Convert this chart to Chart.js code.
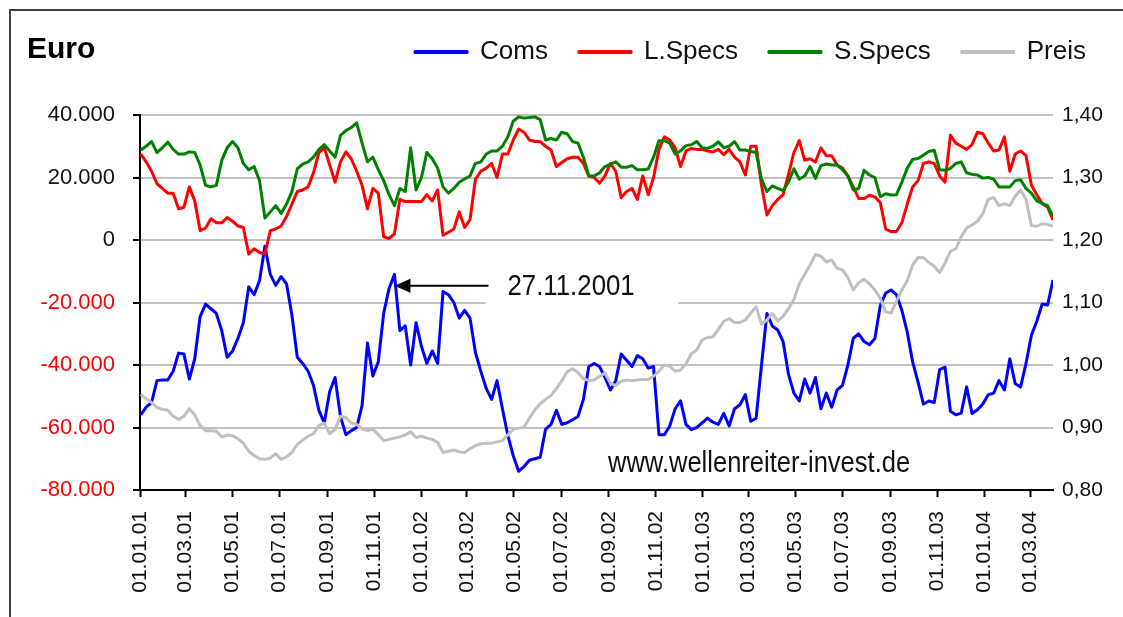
<!DOCTYPE html>
<html>
<head>
<meta charset="utf-8">
<title>Euro</title>
<script src="https://cdn.jsdelivr.net/npm/chart.js@4.4.1/dist/chart.umd.min.js"></script>
<style>
  html, body { margin: 0; padding: 0; background: #fff; }
  canvas { display: block; }
</style>
</head>
<body>
<canvas id="myChart" width="1123" height="617"></canvas>
<script>
// weekly COT reports, first one on Tuesday 02.01.2001
const firstReport = '02.01.01';

const coms = [
  -56000, -53500, -52000, -45000, -44800, -44800, -42000, -36200, -36500, -44500,
  -38000, -24500, -20500, -22000, -23500, -29000, -37500, -35500, -31500, -26500,
  -15000, -17500, -13000, -2000, -11000, -14500, -11700, -14000, -24000, -37500,
  -39500, -42000, -46500, -54500, -58500, -48500, -44000, -56500, -62300, -61000,
  -60000, -53000, -33000, -43500, -39000, -23500, -15500, -11000, -29000, -27500,
  -40000, -26500, -34000, -39500, -35500, -39500, -16500, -17500, -20000, -25000,
  -22500, -25000, -36000, -42000, -47500, -51000, -45000, -54000,
  -62500, -69000, -74000, -72500, -70500, -70000, -69500, -60500, -59000, -54500,
  -59000, -58500, -57500, -56500, -51000, -40500, -39500, -40500, -44000, -48000,
  -45000, -36500, -38500, -40500, -37000, -38000, -41000, -40500, -62300, -62300,
  -59500, -54000, -51500, -59000, -60700, -60000, -58500, -57000,
  -58300, -59000, -55500, -59500, -54000, -52700, -49500, -58000, -57000, -40000,
  -23500, -27500, -28800, -32500, -43000, -49000, -51500, -44500, -49000, -44000,
  -54000, -49000, -53500, -48000, -46500, -40000, -31500, -30000, -32500, -33500,
  -31500, -21000, -17000, -16000, -17500, -22500, -29500, -39000,
  -45500, -52500, -51500, -52000, -41500, -40700, -54800, -55900, -55400, -47000,
  -55500, -54300, -52500, -49500, -49000, -45000, -48000, -38000, -46000, -47000,
  -39500, -30500, -26000, -20500, -20800, -12800
];

const longSpecs = [
  27500, 25000, 22000, 18000, 16500, 15000, 15000, 10000, 10500, 17000,
  12500, 3000, 3800, 6800, 5500, 5500, 7200, 6000, 4500, 4000,
  -4500, -2800, -4000, -4500, 3000, 3500, 4500, 7500, 11500, 15500,
  16000, 17000, 21500, 28000, 29500, 24000, 18500, 25000, 28200, 26000,
  22000, 17500, 10000, 16500, 15000, 1000, 500, 2000, 13000, 12300,
  12300, 12300, 12300, 14500, 12500, 16000, 1500, 2500, 3500, 9000,
  4000, 6500, 19500, 22000, 23000, 24500, 20000, 27500,
  27500, 32000, 35500, 34500, 32000, 31500, 31500, 30000, 28800, 23500,
  24800, 26000, 26500, 26500, 24500, 20500, 20000, 18200, 20500, 24500,
  22000, 13500, 15500, 16500, 13000, 20500, 14500, 20000, 29000, 33000,
  32000, 29500, 23500, 28500, 29300, 29000, 29000, 28500,
  28200, 29000, 27300, 29000, 26500, 25000, 20800, 30000, 30000, 17500,
  8000, 11000, 13000, 14500, 21000, 28000, 31800, 25500, 26000, 25000,
  29500, 27000, 27000, 24000, 23000, 20500, 17000, 13300, 13300, 14300,
  13800, 12000, 3500, 2700, 2700, 5500, 11500, 17000,
  19000, 24500, 25000, 24500, 20500, 18500, 33500, 31000, 30000, 29000,
  30500, 34500, 34000, 31000, 28500, 28800, 33000, 22000, 27500, 28500,
  27000, 17500, 14500, 11700, 10500, 6500
];

const shortSpecs = [
  28800, 30000, 31500, 28000, 29500, 31300, 29000, 27500, 27500, 28200,
  28000, 24000, 17500, 17000, 17500, 25500, 29500, 31500, 29500, 24500,
  22500, 23500, 19000, 7000, 9000, 11000, 8500, 11500, 15500, 22800,
  24300, 25000, 26500, 29000, 30500, 28500, 26500, 33500, 35000, 36000,
  37500, 31000, 25000, 26500, 22500, 19000, 14500, 11000, 16500, 15500,
  29500, 16000, 20000, 28000, 26000, 23000, 17000, 15000, 16500, 18500,
  19500, 20500, 24500, 25000, 27500, 28500, 28500, 30000,
  33000, 38000, 39400, 39000, 39200, 39400, 38500, 32000, 32500, 32000,
  34500, 34000, 31500, 31000, 26500, 20500, 20500, 21500, 23500, 24200,
  25000, 23300, 23300, 23800, 22500, 22500, 22700, 26500, 31800, 31800,
  31000, 27500, 28500, 30200, 30500, 31500, 29500, 29300,
  30000, 31400, 29500, 30000, 31500, 28800, 28800, 28300, 28000, 19500,
  15500, 17300, 16500, 15800, 18600, 22800, 19500, 20500, 23500, 19700,
  23800, 24300, 24000, 24000, 22500, 20500, 16000, 16500, 22300, 20800,
  20000, 13900, 14800, 14400, 14500, 18500, 23000, 25800,
  26100, 27200, 28300, 28700, 22500, 22300, 22900, 24500, 25000, 21500,
  21000, 20800, 19800, 20000, 19500, 17000, 17000, 17000, 19000, 19300,
  16500, 15000, 12500, 11700, 11000, 7500
];

const preis = [
  0.953, 0.946, 0.940, 0.932, 0.929, 0.928, 0.918, 0.913, 0.918, 0.930,
  0.920, 0.903, 0.895, 0.895, 0.894, 0.885, 0.888, 0.887, 0.882, 0.875,
  0.862, 0.855, 0.850, 0.849, 0.851, 0.858, 0.849, 0.853, 0.860, 0.873,
  0.880, 0.886, 0.890, 0.903, 0.907, 0.890, 0.897, 0.918, 0.916, 0.907,
  0.905, 0.898, 0.895, 0.897, 0.889, 0.879, 0.881, 0.883, 0.885, 0.888,
  0.893, 0.884, 0.886, 0.883, 0.881, 0.876, 0.860, 0.862, 0.864, 0.861,
  0.860, 0.866, 0.871, 0.874, 0.875, 0.875, 0.877, 0.879,
  0.888, 0.897, 0.899, 0.900, 0.915, 0.928, 0.938, 0.945, 0.951, 0.962,
  0.975, 0.989, 0.994, 0.988, 0.978, 0.975, 0.976, 0.982, 0.987, 0.971,
  0.967, 0.974, 0.976, 0.975, 0.976, 0.977, 0.977, 0.982, 0.990, 1.000,
  0.998, 0.990, 0.992, 1.002, 1.018, 1.024, 1.040, 1.044,
  1.045, 1.057, 1.070, 1.074, 1.068, 1.068, 1.072, 1.083, 1.093, 1.065,
  1.072, 1.083, 1.070, 1.078, 1.090, 1.105, 1.130, 1.145, 1.160, 1.177,
  1.174, 1.165, 1.168, 1.155, 1.152, 1.140, 1.120, 1.132, 1.137, 1.130,
  1.120, 1.107, 1.085, 1.083, 1.102, 1.120, 1.135, 1.160,
  1.172, 1.172, 1.164, 1.158, 1.148, 1.163, 1.182, 1.186, 1.205, 1.219,
  1.224, 1.230, 1.242, 1.265, 1.268, 1.255, 1.258, 1.255, 1.270, 1.280,
  1.265, 1.223, 1.222, 1.226, 1.225, 1.222
];

const tickLabels = [
  '01.01.01', '01.03.01', '01.05.01', '01.07.01', '01.09.01', '01.11.01',
  '01.01.02', '01.03.02', '01.05.02', '01.07.02', '01.09.02', '01.11.02',
  '01.01.03', '01.03.03', '01.05.03', '01.07.03', '01.09.03', '01.11.03',
  '01.01.04', '01.03.04'
];
const axisEnd = '30.03.04';
const markedDate = '27.11.01';
const markedLabel = '27.11.2001';

// days since 01.01.2001, used as x value
function dayOf(s) {
  const p = s.split('.');
  const t = Date.UTC(2000 + Number(p[2]), Number(p[1]) - 1, Number(p[0]));
  return Math.round((t - Date.UTC(2001, 0, 1)) / 86400000);
}

const firstDay = dayOf(firstReport);
const weekDays = coms.map((v, i) => firstDay + 7 * i);
const tickDays = tickLabels.map(dayOf);

function points(values) {
  return values.map((v, i) => ({ x: weekDays[i], y: v }));
}

function fmtThousands(v) {
  if (v === 0) return '0';
  return (v < 0 ? '-' : '') + String(Math.abs(v) / 1000) + '.000';
}

const FONT = 'Arial, "Liberation Sans", sans-serif';
Chart.defaults.font.family = FONT;
Chart.defaults.color = '#000';

// legend sits on the title row, leave the gap to the plot below it
const legendGap = {
  id: 'legendGap',
  beforeLayout(chart) {
    const lg = chart.legend;
    if (lg && !lg._gapDone) {
      const fit = lg.fit;
      lg.fit = function () { fit.call(this); this.height += 40; };
      lg._gapDone = true;
    }
  }
};

const decor = {
  id: 'decor',
  beforeDraw(chart) {
    const ctx = chart.ctx;
    ctx.save();
    ctx.fillStyle = '#fff';
    ctx.fillRect(0, 0, chart.width, chart.height);
    ctx.restore();
  },
  afterDatasetsDraw(chart) {
    const ctx = chart.ctx;
    const xs = chart.scales.x, ys = chart.scales.y;
    const tipX = xs.getPixelForValue(dayOf(markedDate));
    const tipY = ys.getPixelForValue(-14600);
    ctx.save();
    // white label box
    ctx.fillStyle = '#fff';
    ctx.fillRect(tipX + 91, tipY - 24, 193, 43);
    // arrow
    ctx.strokeStyle = '#000';
    ctx.lineWidth = 2;
    ctx.beginPath();
    ctx.moveTo(tipX + 12, tipY);
    ctx.lineTo(tipX + 94, tipY);
    ctx.stroke();
    ctx.fillStyle = '#000';
    ctx.beginPath();
    ctx.moveTo(tipX, tipY);
    ctx.lineTo(tipX + 16, tipY - 7);
    ctx.lineTo(tipX + 16, tipY + 7);
    ctx.closePath();
    ctx.fill();
    // label text
    ctx.fillStyle = '#111';
    ctx.font = '30px ' + FONT;
    ctx.textBaseline = 'middle';
    ctx.translate(tipX + 113, tipY + 1);
    ctx.scale(0.86, 1);
    ctx.fillText(markedLabel, 0, 0);
    ctx.restore();

    // source note
    const ca = chart.chartArea;
    ctx.save();
    ctx.fillStyle = '#111';
    ctx.font = '29px ' + FONT;
    ctx.textBaseline = 'alphabetic';
    ctx.translate(ca.left + 468, ca.bottom - 18);
    ctx.scale(0.88, 1);
    ctx.fillText('www.wellenreiter-invest.de', 0, 0);
    ctx.restore();
  },
  afterDraw(chart) {
    const ctx = chart.ctx;
    ctx.save();
    ctx.strokeStyle = '#404040';
    ctx.lineWidth = 2;
    ctx.strokeRect(10, 10, chart.width + 50, chart.height + 50);
    ctx.fillStyle = '#000';
    ctx.font = 'bold 30px ' + FONT;
    ctx.textBaseline = 'alphabetic';
    ctx.fillText('Euro', 27, 58);
    ctx.restore();
  }
};

const ctx = document.getElementById('myChart').getContext('2d');
const chart = new Chart(ctx, {
  type: 'line',
  data: {
    datasets: [
      {
        label: 'Coms',
        data: points(coms),
        borderColor: '#0000ff',
        backgroundColor: '#0000ff',
        borderWidth: 3,
        yAxisID: 'y',
        order: 4
      },
      {
        label: 'L.Specs',
        data: points(longSpecs),
        borderColor: '#ff0000',
        backgroundColor: '#ff0000',
        borderWidth: 3,
        yAxisID: 'y',
        order: 3
      },
      {
        label: 'S.Specs',
        data: points(shortSpecs),
        borderColor: '#008000',
        backgroundColor: '#008000',
        borderWidth: 3,
        yAxisID: 'y',
        order: 2
      },
      {
        label: 'Preis',
        data: points(preis),
        borderColor: '#c0c0c0',
        backgroundColor: '#c0c0c0',
        borderWidth: 3,
        yAxisID: 'y1',
        order: 1
      }
    ]
  },
  options: {
    responsive: false,
    animation: false,
    devicePixelRatio: 1,
    elements: {
      point: { radius: 0 },
      line: { tension: 0, borderJoinStyle: 'round' }
    },
    layout: { padding: { left: 0, right: 6, top: 8, bottom: 0 } },
    plugins: {
      tooltip: { enabled: false },
      legend: {
        position: 'top',
        align: 'end',
        labels: {
          boxWidth: 52,
          boxHeight: 1,
          padding: 31,
          color: '#111',
          font: { size: 26 },
          sort: (a, b) => a.datasetIndex - b.datasetIndex
        }
      }
    },
    scales: {
      x: {
        type: 'linear',
        position: 'bottom',
        min: 0,
        max: dayOf(axisEnd),
        afterBuildTicks: (s) => { s.ticks = tickDays.map(v => ({ value: v })); },
        afterFit: (s) => { s.height = 127; },
        grid: { drawOnChartArea: false, drawTicks: true, tickLength: 7, tickColor: '#000', tickWidth: 2 },
        border: { color: '#000', width: 2 },
        ticks: {
          autoSkip: false,
          maxRotation: 90,
          minRotation: 90,
          padding: 14,
          color: '#111',
          font: { size: 21 },
          callback: (v) => tickLabels[tickDays.indexOf(v)]
        }
      },
      y: {
        position: 'left',
        min: -80000,
        max: 40000,
        afterFit: (s) => { s.width = 140; },
        grid: {
          color: (c) => (c.tick && c.tick.value === -80000) ? 'rgba(0,0,0,0)' : '#c0c0c0',
          lineWidth: 2,
          tickLength: 7,
          tickColor: '#000',
          tickWidth: 2
        },
        border: { color: '#000', width: 2 },
        ticks: {
          stepSize: 20000,
          padding: 18,
          font: { size: 22 },
          color: (c) => c.tick.value < 0 ? '#ff0000' : '#111',
          callback: fmtThousands
        }
      },
      y1: {
        position: 'right',
        min: 0.8,
        max: 1.4,
        afterFit: (s) => { s.width = 64; },
        grid: { display: false, drawTicks: false },
        border: { display: false },
        ticks: {
          stepSize: 0.1,
          padding: 9,
          color: '#111',
          font: { size: 21 },
          callback: (v) => v.toFixed(2).replace('.', ',')
        }
      }
    }
  },
  plugins: [legendGap, decor]
});
</script>
</body>
</html>
